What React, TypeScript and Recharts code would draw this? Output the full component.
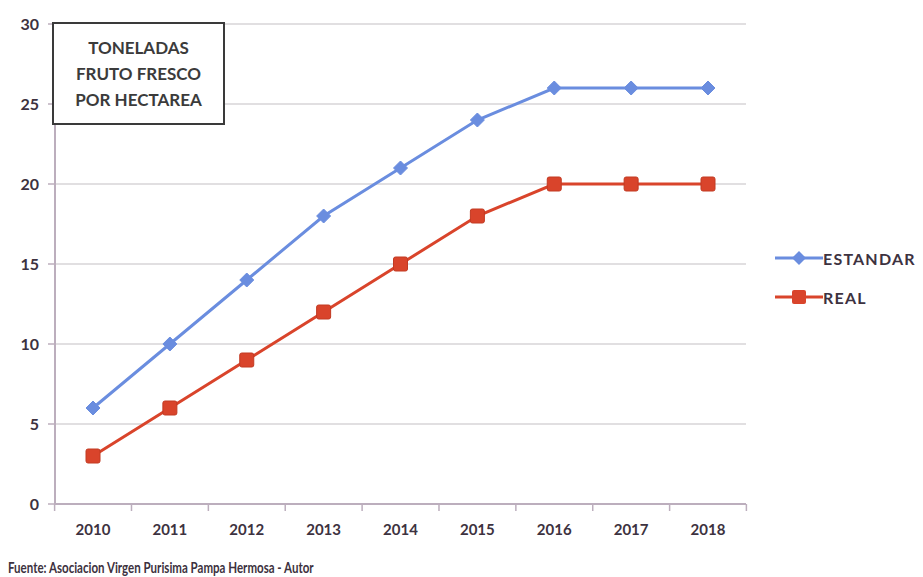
import { LineChart, Line, XAxis, YAxis, CartesianGrid } from 'recharts';

const years = ['2010', '2011', '2012', '2013', '2014', '2015', '2016', '2017', '2018'];
const estandar = [6, 10, 14, 18, 21, 24, 26, 26, 26];
const real = [3, 6, 9, 12, 15, 18, 20, 20, 20];
const yTicks = [0, 5, 10, 15, 20, 25, 30];

const BLUE = '#6a8ddf';
const RED = '#d9442b';
const TEXT = '#3d3240';
const AXIS = '#bcaebd';
const FONT = 'Lato, "Open Sans", sans-serif';
const TICK_GAP = 20;

const data = years.map((year, i) => ({ year, estandar: estandar[i], real: real[i] }));

function Diamond({ cx, cy }: any) {
  if (cx == null || cy == null) return null;
  const r = 7;
  return (
    <polygon
      points={`${cx},${cy - r} ${cx + r},${cy} ${cx},${cy + r} ${cx - r},${cy}`}
      fill={BLUE}
      stroke={BLUE}
    />
  );
}

function Square({ cx, cy }: any) {
  if (cx == null || cy == null) return null;
  const s = 7;
  return (
    <rect x={cx - s} y={cy - s} width={s * 2} height={s * 2} rx={2} fill={RED} stroke="#c23a22" strokeWidth={1} />
  );
}

// year label plus the little tick marks that sit between the years
function YearTick({ x, y, payload, index, width, visibleTicksCount }: any) {
  const step = width / visibleTicksCount;
  const axisY = y - TICK_GAP;
  const left = x - step / 2;
  return (
    <g>
      <line x1={left} y1={axisY} x2={left} y2={axisY + 7} stroke={AXIS} strokeWidth={1.5} />
      {index === visibleTicksCount - 1 && (
        <line x1={x + step / 2} y1={axisY} x2={x + step / 2} y2={axisY + 7} stroke={AXIS} strokeWidth={1.5} />
      )}
      <text x={x} y={y} dy="0.71em" textAnchor="middle" fill={TEXT} fontSize={15} fontWeight={700} fontFamily={FONT}>
        {payload.value}
      </text>
    </g>
  );
}

function LegendItem({ label, color, marker }: { label: string; color: string; marker: 'diamond' | 'square' }) {
  return (
    <div style={{ display: 'flex', alignItems: 'center', height: 20 }}>
      <svg width={48} height={16}>
        <line x1={0} y1={8} x2={48} y2={8} stroke={color} strokeWidth={3} />
        {marker === 'diamond' ? (
          <polygon points="24,1 31,8 24,15 17,8" fill={color} />
        ) : (
          <rect x={17} y={1} width={14} height={14} rx={2} fill={color} />
        )}
      </svg>
      <span style={{ fontFamily: FONT, fontWeight: 700, fontSize: 16, color: TEXT, letterSpacing: 1.2 }}>{label}</span>
    </div>
  );
}

export default function App() {
  return (
    <div style={{ position: 'relative', width: 915, height: 569, background: '#fff' }}>
      <LineChart width={760} height={535} data={data} margin={{ top: 16, right: 22, bottom: 0, left: 0 }}>
        <CartesianGrid vertical={false} stroke="#c4c0c4" strokeWidth={1.2} />
        <XAxis
          dataKey="year"
          padding={{ left: 38, right: 38 }}
          axisLine={{ stroke: AXIS, strokeWidth: 2 }}
          tickLine={false}
          tickSize={0}
          tickMargin={TICK_GAP}
          height={39}
          interval={0}
          tick={<YearTick />}
        />
        <YAxis
          domain={[0, 30]}
          ticks={yTicks}
          width={47}
          tickSize={7}
          tickMargin={9}
          axisLine={{ stroke: AXIS, strokeWidth: 2 }}
          tickLine={{ stroke: AXIS, strokeWidth: 1.5 }}
          tick={{ fill: TEXT, fontSize: 16, fontWeight: 700, fontFamily: FONT }}
        />
        <Line
          dataKey="estandar"
          stroke={BLUE}
          strokeWidth={3}
          dot={<Diamond />}
          activeDot={false}
          isAnimationActive={false}
        />
        <Line
          dataKey="real"
          stroke={RED}
          strokeWidth={3}
          dot={<Square />}
          activeDot={false}
          isAnimationActive={false}
        />
      </LineChart>

      <div
        style={{
          position: 'absolute',
          left: 44,
          top: 14,
          width: 169,
          height: 99,
          border: '2px solid #3a3a3a',
          background: '#fff',
          display: 'flex',
          flexDirection: 'column',
          justifyContent: 'center',
          alignItems: 'center',
          fontFamily: FONT,
          fontWeight: 700,
          fontSize: 17,
          lineHeight: '26px',
          color: '#3b3b3b',
          textAlign: 'center',
        }}
      >
        <div>TONELADAS</div>
        <div>FRUTO FRESCO</div>
        <div>POR HECTAREA</div>
      </div>

      <div style={{ position: 'absolute', left: 767, top: 240, display: 'flex', flexDirection: 'column', gap: 19 }}>
        <LegendItem label="ESTANDAR" color={BLUE} marker="diamond" />
        <LegendItem label="REAL" color={RED} marker="square" />
      </div>

      <div
        style={{
          position: 'absolute',
          left: 0,
          top: 549,
          fontFamily: FONT,
          fontWeight: 700,
          fontSize: 16,
          color: TEXT,
          whiteSpace: 'nowrap',
          transform: 'scaleX(0.72)',
          transformOrigin: 'left center',
        }}
      >
        Fuente: Asociacion Virgen Purisima Pampa Hermosa - Autor
      </div>
    </div>
  );
}
